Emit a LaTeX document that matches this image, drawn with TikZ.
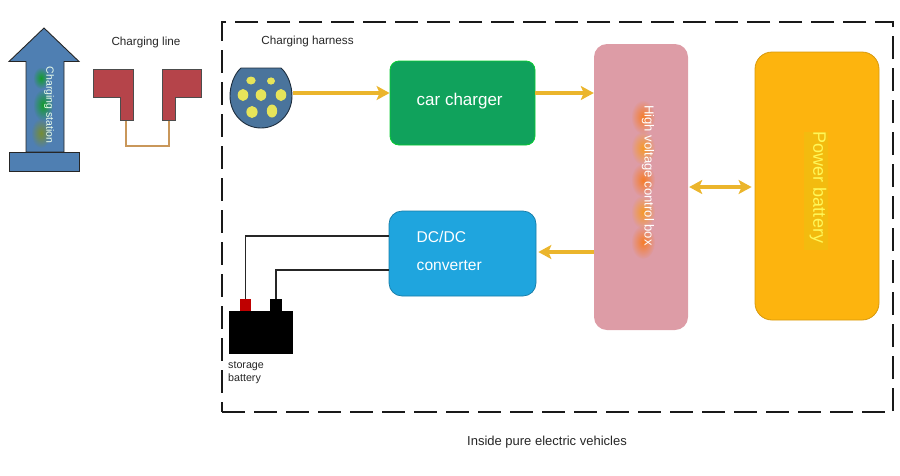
\documentclass[tikz,border=0pt]{standalone}
\usepackage{fontspec}
\setmainfont{Liberation Sans}
\usetikzlibrary{arrows.meta,calc,fadings}
\definecolor{stblue}{HTML}{4F7FB2}
\definecolor{plugred}{HTML}{B5444A}
\definecolor{wirecol}{HTML}{C9975A}
\definecolor{pinyel}{HTML}{E6E45A}
\definecolor{plugblue}{HTML}{4A749C}
\definecolor{chgreen}{HTML}{10A25C}
\definecolor{dcblue}{HTML}{1FA5DE}
\definecolor{boxpink}{HTML}{DD9CA6}
\definecolor{batorange}{HTML}{FDB40E}
\definecolor{arrowyel}{HTML}{EBB52C}
\tikzfading[name=softglow,inner color=transparent!25,outer color=transparent!100]
\tikzset{
  lbl/.style={font=\fontsize{11.7}{14}\selectfont,text=black!85,inner sep=0pt},
  boxlbl/.style={text=white,inner sep=0pt},
  vlbl/.style={rotate=-90,inner sep=0pt},
  ubox/.style={rounded corners=#1,inner sep=0pt},
  flow/.style={draw=arrowyel,line width=3.6pt,-{Stealth[length=13pt,width=14pt,inset=3pt]}},
  flowboth/.style={draw=arrowyel,line width=3.6pt,{Stealth[length=13pt,width=14pt,inset=3pt]}-{Stealth[length=13pt,width=14pt,inset=3pt]}},
  wire/.style={draw=black!85,line width=1.2pt},
  pin/.style={fill=pinyel,draw=none},
  glow/.style={draw=none,path fading=softglow}
}
\begin{document}
\begin{tikzpicture}[x=1pt,y=-1pt]
\useasboundingbox (0,0) rectangle (900,475);
% charging station
\draw[fill=stblue,draw=black!85,line width=0.9pt,line join=miter]
  (44,28) -- (79,61.5) -- (64,61.5) -- (64,152) -- (26,152) -- (26,61.5) -- (9,61.5) -- cycle;
\draw[fill=stblue,draw=black!85,line width=0.9pt] (9,152.5) rectangle (79,171);
\fill[glow,green!65!black] (41,78) ellipse (8 and 11);
\fill[glow,green!65!black] (43,105) ellipse (10 and 16);
\fill[glow,olive!80!green] (41,133) ellipse (10 and 15);
\node[vlbl,text=white!92!green,font=\fontsize{10.5}{12}\selectfont] (stn) at (49,105) {Charging station};
% charging line
\coordinate (wl) at (126,120);
\coordinate (wr) at (169,120);
\draw[draw=wirecol,line width=1.6pt] (wl) -- (126,146) -- (169,146) -- (wr);
\draw[fill=plugred,draw=black!70,line width=0.8pt] (93,69) -- (133,69) -- (133,120) -- (120,120) -- (120,97) -- (93,97) -- cycle;
\draw[fill=plugred,draw=black!70,line width=0.8pt] (162,69) -- (201,69) -- (201,97) -- (175,97) -- (175,120) -- (162,120) -- cycle;
\node[lbl] (lineL) at (146,42) {Charging line};
% frame
\node[draw=black!90,line width=1.7pt,dash pattern=on 23pt off 9pt,minimum width=671pt,minimum height=390pt,inner sep=0pt] (frame) at (557.5,217) {};
% connector
\draw[fill=plugblue,draw=black!60!plugblue,line width=0.9pt] (241,68) -- (281,68) .. controls (288,74) and (292,86) .. (292,96) .. controls (292,114) and (278,128) .. (261,128) .. controls (244,128) and (230,114) .. (230,96) .. controls (230,86) and (234,74) .. (241,68) -- cycle;
\coordinate (plugE) at (293,93);
\fill[pin] (251,80.5) ellipse (4.7 and 4);
\fill[pin] (271,81) ellipse (4 and 3.6);
\fill[pin] (243,95) ellipse (5.3 and 6);
\fill[pin] (261,95) ellipse (5.3 and 6);
\fill[pin] (281,95) ellipse (5.3 and 6);
\fill[pin] (252,112) ellipse (5.6 and 6);
\fill[pin] (272,111) ellipse (5.2 and 6.5);
\node[lbl] (harness) at (307.5,41) {Charging harness};
% boxes
\node[ubox=9pt,fill=chgreen,draw=green!45!chgreen,line width=0.8pt,minimum width=145pt,minimum height=84pt] (charger) at (462.5,103) {};
\node[boxlbl,anchor=west,font=\fontsize{17}{20}\selectfont] (chtxt) at (416.5,101.5) {car charger};
\node[ubox=13pt,fill=dcblue,draw=dcblue!75!black,line width=0.7pt,minimum width=147pt,minimum height=85pt] (dcdc) at (462.5,253.5) {};
\node[boxlbl,anchor=west,font=\fontsize{15.6}{18}\selectfont] (dctxt1) at (416.5,237) {DC/DC};
\node[boxlbl,anchor=west,font=\fontsize{15.6}{18}\selectfont] (dctxt2) at (416.5,265.5) {converter};
\node[ubox=13pt,fill=boxpink,minimum width=94pt,minimum height=286pt] (hv) at (641,187) {};
\fill[glow,orange!90!red] (643,117) ellipse (12 and 17);
\fill[glow,orange!80!yellow] (643,148) ellipse (12 and 17);
\fill[glow,orange!90!red] (643,180) ellipse (12 and 17);
\fill[glow,orange!80!yellow] (643,212) ellipse (12 and 17);
\fill[glow,orange!90!red] (643,242) ellipse (12 and 17);
\node[vlbl,text=white,font=\fontsize{13.1}{15}\selectfont] (hvtxt) at (648,175.5) {High voltage control box};
\node[ubox=17pt,fill=batorange,draw=batorange!85!black,line width=0.8pt,minimum width=124pt,minimum height=268pt] (bat) at (817,186) {};
\fill[yellow!25!batorange!90!olive,opacity=0.7] (804,132) rectangle (828,250);
\node[vlbl,text=yellow!65!white,font=\fontsize{18}{21}\selectfont] (battxt) at (818,187.5) {Power battery};
% arrows
\draw[flow] (plugE) -- (charger.west |- plugE);
\coordinate (a1) at (charger.east |- 0,93);
\draw[flow] (a1) -- (hv.west |- a1);
\coordinate (a2) at (hv.east |- 0,187);
\draw[flowboth] ($(a2)+(1,0)$) -- ($(bat.west |- a2)+(-3,0)$);
\coordinate (a3) at (hv.west |- 0,252);
\draw[flow] (a3) -- ($(dcdc.east |- a3)+(2,0)$);
% storage battery
\node[fill=black,inner sep=0pt,minimum width=64pt,minimum height=43pt] (sb) at (261,332.5) {};
\node[fill=red!75!black,inner sep=0pt,minimum width=11pt,minimum height=12pt] (pos) at (245.5,305) {};
\node[fill=black,inner sep=0pt,minimum width=12pt,minimum height=12pt] (neg) at (276,305) {};
\coordinate (d1) at (dcdc.west |- 0,236);
\coordinate (d2) at (dcdc.west |- 0,270);
\draw[wire] (d1) -| (pos.north);
\draw[wire] (d2) -| (neg.north);
\node[lbl,anchor=west,font=\fontsize{10.7}{12}\selectfont] (sl1) at (228,366) {storage};
\node[lbl,anchor=west,font=\fontsize{10.7}{12}\selectfont] (sl2) at (228,379) {battery};
\node[lbl,font=\fontsize{13}{15}\selectfont] (inside) at (547,442) {Inside pure electric vehicles};
\end{tikzpicture}
\end{document}
